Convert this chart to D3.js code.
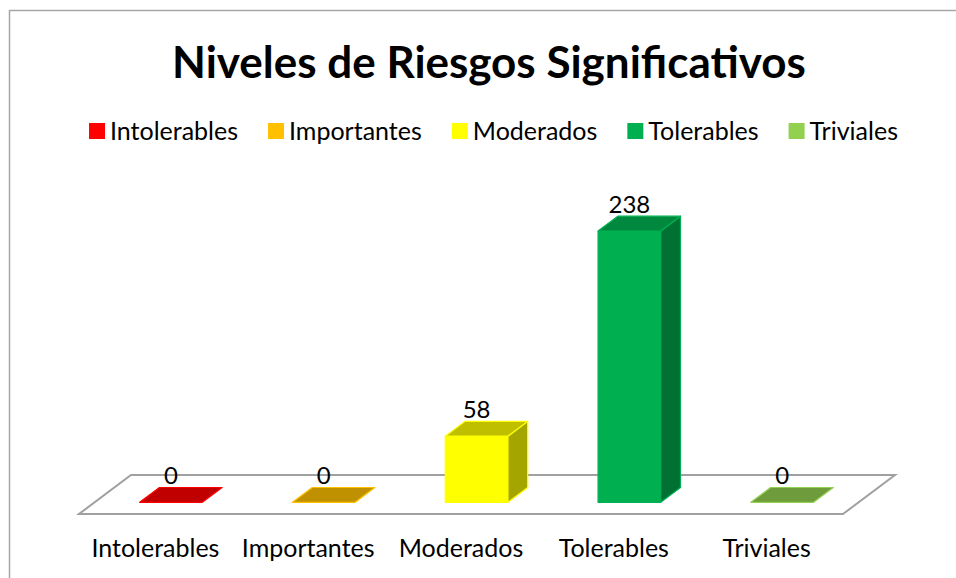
<!DOCTYPE html>
<html>
<head>
<meta charset="utf-8">
<script src="https://cdn.jsdelivr.net/npm/d3@7"></script>
<style>
  html, body { margin: 0; padding: 0; background: #fff; }
  svg { display: block; }
  text { font-family: Lato, "Open Sans", sans-serif; }
</style>
</head>
<body>
<svg id="chart" width="956" height="578"></svg>
<script>
// Riesgos por nivel
const categories = ["Intolerables", "Importantes", "Moderados", "Tolerables", "Triviales"];
const values = [0, 0, 58, 238, 0];
const frontColors = ["#FF0000", "#FFC000", "#FFFF00", "#00B050", "#92D050"];
const topColors   = ["#C00000", "#BF9000", "#BFBF00", "#00893E", "#6E9C3C"];
const sideColors  = ["#A00000", "#A07800", "#A5A500", "#007033", "#5A8232"];
const chartTitle = "Niveles de Riesgos Significativos";

const svg = d3.select("#chart");

// outer chart frame (left and top edges)
svg.append("path")
  .attr("d", "M9.5,578 L9.5,10.5 L956,10.5")
  .attr("fill", "none").attr("stroke", "#A6A6A6").attr("stroke-width", 1.5);

// title
svg.append("text")
  .attr("x", 489).attr("y", 78)
  .attr("text-anchor", "middle")
  .attr("font-size", 44).attr("font-weight", 700)
  .attr("fill", "#000")
  .text(chartTitle);

// legend
const legend = svg.append("g");
const labelFont = 25;
let lx = 0;
categories.forEach((c, i) => {
  const g = legend.append("g");
  g.append("rect").attr("x", lx).attr("y", -8).attr("width", 16).attr("height", 16)
    .attr("fill", frontColors[i]);
  const t = g.append("text").attr("x", lx + 21).attr("y", 8.5)
    .attr("font-size", labelFont).attr("fill", "#000").text(c);
  const w = t.node().getComputedTextLength();
  lx += 21 + w + 30;
});
const legendW = lx - 30;
legend.attr("transform", `translate(${493.5 - legendW / 2},131)`);

// 3D floor geometry
const floorLeft = 79, floorRight = 843, floorY = 514;
const depth = { dx: 52, dy: -39 };

const x = d3.scaleBand().domain(categories).range([floorLeft, floorRight]).padding(0);
const h = d3.scaleLinear().domain([0, 250]).range([0, 285]);

const barFrac = 0.41;   // bar width as share of slot
const zFront = 0.30;    // bar front position inside floor depth
const zDepth = 0.38;    // bar thickness as share of floor depth

const floor = [
  [floorLeft, floorY],
  [floorRight, floorY],
  [floorRight + depth.dx, floorY + depth.dy],
  [floorLeft + depth.dx, floorY + depth.dy]
];
svg.append("path")
  .attr("d", d3.line()(floor) + "Z")
  .attr("fill", "#fff").attr("stroke", "#A0A0A0").attr("stroke-width", 2);

// bars
const bars = svg.append("g");
categories.forEach((c, i) => {
  const v = values[i];
  const bw = x.bandwidth() * barFrac;
  const cx = x(c) + x.bandwidth() / 2 + zFront * depth.dx;
  const by = floorY + zFront * depth.dy;
  const x0 = cx - bw / 2, x1 = cx + bw / 2;
  const ty = by - h(v);
  const ddx = zDepth * depth.dx, ddy = zDepth * depth.dy;
  const g = bars.append("g").attr("stroke", frontColors[i]).attr("stroke-width", 1.2)
    .attr("stroke-linejoin", "round");
  if (v > 0) {
    g.append("path").attr("d", d3.line()([[x0, by], [x1, by], [x1, ty], [x0, ty]]) + "Z")
      .attr("fill", frontColors[i]);
    g.append("path").attr("d", d3.line()([[x1, by], [x1 + ddx, by + ddy], [x1 + ddx, ty + ddy], [x1, ty]]) + "Z")
      .attr("fill", sideColors[i]);
  }
  g.append("path").attr("d", d3.line()([[x0, ty], [x1, ty], [x1 + ddx, ty + ddy], [x0 + ddx, ty + ddy]]) + "Z")
    .attr("fill", topColors[i]);

  // value label
  svg.append("text")
    .attr("x", cx).attr("y", ty + ddy - 3)
    .attr("text-anchor", "middle")
    .attr("font-size", 24).attr("fill", "#000")
    .text(v);

  // category label
  svg.append("text")
    .attr("x", x(c) + x.bandwidth() / 2).attr("y", 557)
    .attr("text-anchor", "middle")
    .attr("font-size", labelFont).attr("fill", "#000")
    .text(c);
});
</script>
</body>
</html>
